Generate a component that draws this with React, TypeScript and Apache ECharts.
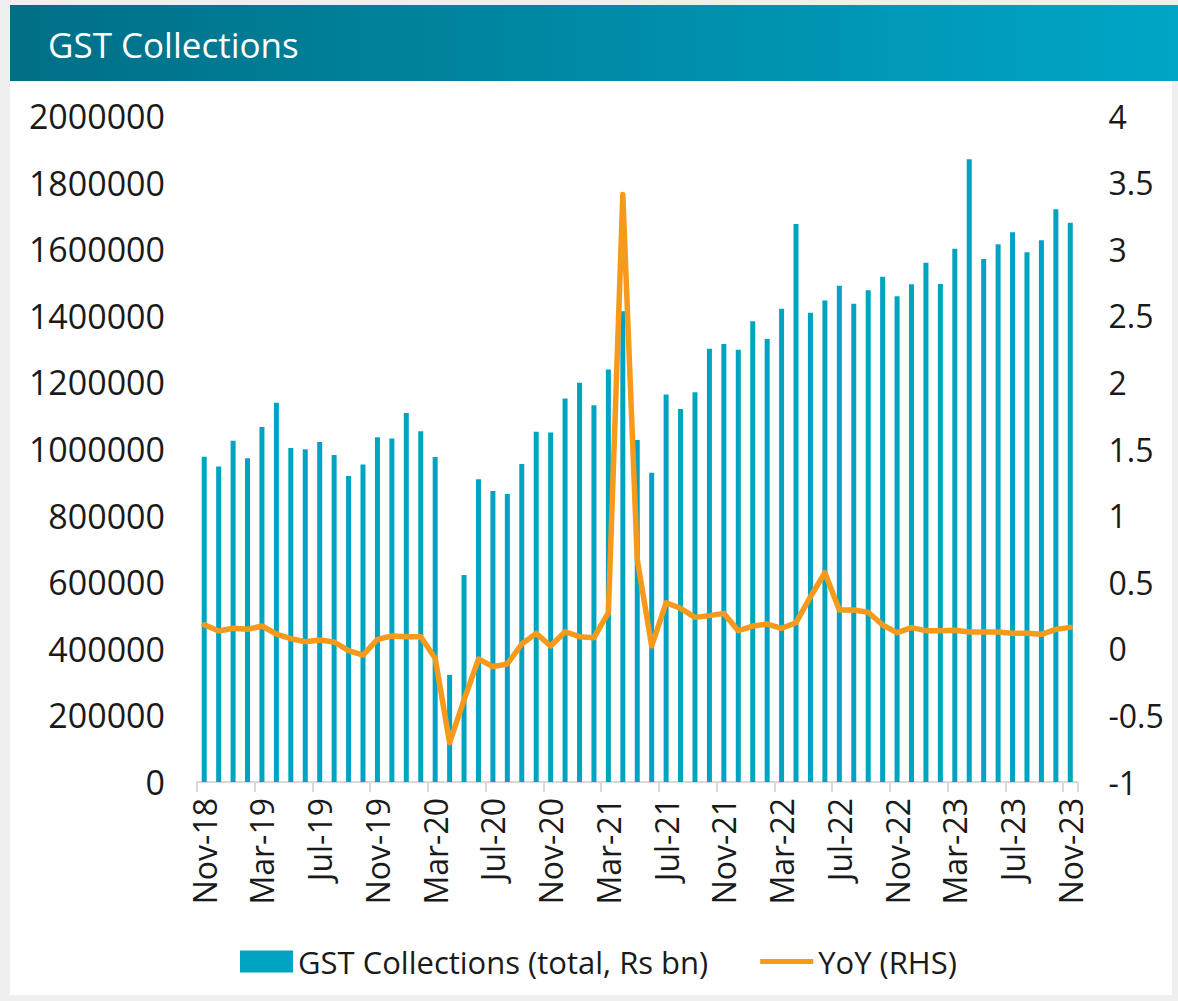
import React, { useEffect, useRef } from "react";
import * as echarts from "echarts";

const months: string[] = [
  "Nov-18", "Dec-18", "Jan-19", "Feb-19", "Mar-19", "Apr-19", "May-19", "Jun-19", "Jul-19", "Aug-19", "Sep-19", "Oct-19",
  "Nov-19", "Dec-19", "Jan-20", "Feb-20", "Mar-20", "Apr-20", "May-20", "Jun-20", "Jul-20", "Aug-20", "Sep-20", "Oct-20",
  "Nov-20", "Dec-20", "Jan-21", "Feb-21", "Mar-21", "Apr-21", "May-21", "Jun-21", "Jul-21", "Aug-21", "Sep-21", "Oct-21",
  "Nov-21", "Dec-21", "Jan-22", "Feb-22", "Mar-22", "Apr-22", "May-22", "Jun-22", "Jul-22", "Aug-22", "Sep-22", "Oct-22",
  "Nov-22", "Dec-22", "Jan-23", "Feb-23", "Mar-23", "Apr-23", "May-23", "Jun-23", "Jul-23", "Aug-23", "Sep-23", "Oct-23",
  "Nov-23",
];

const gstCollections: number[] = [
  976370, 947260, 1025030, 972470, 1065770, 1138650, 1002890, 999390, 1020830, 982020, 919160, 953800,
  1034920, 1031840, 1108280, 1053660, 975970, 321720, 621510, 909170, 874220, 864490, 954800, 1051550,
  1049630, 1151740, 1198750, 1131430, 1239020, 1413840, 1027090, 928490, 1163930, 1120200, 1170100, 1301270,
  1315260, 1297800, 1383940, 1330260, 1420950, 1675400, 1408850, 1446160, 1489950, 1436120, 1476860, 1517180,
  1458670, 1495070, 1559220, 1495770, 1601220, 1870350, 1570900, 1614970, 1651050, 1590690, 1627120, 1720030,
  1679290,
];

const yoy: number[] = [
  0.18, 0.134, 0.154, 0.146, 0.171, 0.111, 0.076, 0.053, 0.066, 0.051, -0.014, -0.047,
  0.071, 0.096, 0.091, 0.091, -0.071, -0.705, -0.384, -0.077, -0.134, -0.114, 0.036, 0.116,
  0.021, 0.128, 0.091, 0.083, 0.271, 3.41, 0.67, 0.021, 0.346, 0.304, 0.236, 0.249,
  0.266, 0.136, 0.171, 0.186, 0.154, 0.196, 0.391, 0.571, 0.291, 0.291, 0.274, 0.179,
  0.121, 0.159, 0.136, 0.136, 0.139, 0.126, 0.126, 0.126, 0.116, 0.116, 0.109, 0.146,
  0.161,
];

const titleText = "GST Collections";
const barName = "GST Collections (total, Rs bn)";
const lineName = "YoY (RHS)";

const FONT = "'Open Sans', 'Noto Sans', sans-serif";

export default function App() {
  const ref = useRef<HTMLDivElement>(null);

  useEffect(() => {
    if (!ref.current) return;
    const chart = echarts.init(ref.current, undefined, { renderer: "svg" });
    chart.setOption({
      animation: false,
      textStyle: { fontFamily: FONT },
      graphic: [
        {
          type: "rect",
          z: -10,
          silent: true,
          shape: { x: 10, y: 5, width: 1162, height: 990 },
          style: { fill: "#ffffff" },
        },
        {
          type: "rect",
          z: -9,
          silent: true,
          shape: { x: 10, y: 5, width: 1168, height: 76 },
          style: {
            fill: new echarts.graphic.LinearGradient(0, 0, 1, 0, [
              { offset: 0, color: "#006f86" },
              { offset: 1, color: "#00a6c6" },
            ]),
          },
        },
      ],
      title: {
        text: titleText,
        left: 43,
        top: 22,
        textStyle: { color: "#ffffff", fontSize: 35, fontWeight: 500, fontFamily: FONT },
      },
      legend: {
        left: 235,
        top: 941,
        itemGap: 52,
        itemWidth: 53,
        itemHeight: 22,
        symbolKeepAspect: true,
        textStyle: { color: "#1a1a1a", fontSize: 31, fontFamily: FONT },
        data: [
          { name: barName, icon: "rect" },
          { name: lineName, icon: "path://M0,0 L53,0 L53,5 L0,5 Z" },
        ],
      },
      grid: { left: 197, right: 100.5, top: 116, bottom: 219, containLabel: false },
      xAxis: {
        type: "category",
        data: months,
        boundaryGap: true,
        axisLine: { show: true, lineStyle: { color: "#d9d9d9", width: 2 } },
        axisTick: { show: true, interval: 3, length: 10, lineStyle: { color: "#d9d9d9", width: 2 } },
        axisLabel: {
          interval: 3,
          rotate: 90,
          margin: 16,
          color: "#1a1a1a",
          fontSize: 32,
          fontFamily: FONT,
        },
        splitLine: { show: false },
      },
      yAxis: [
        {
          type: "value",
          min: 0,
          max: 2000000,
          interval: 200000,
          axisLine: { show: false },
          axisTick: { show: false },
          splitLine: { show: false },
          axisLabel: {
            color: "#1a1a1a",
            fontSize: 34,
            margin: 32,
            fontFamily: FONT,
            formatter: (v: number) => String(v),
          },
        },
        {
          type: "value",
          min: -1,
          max: 4,
          interval: 0.5,
          axisLine: { show: false },
          axisTick: { show: false },
          splitLine: { show: false },
          axisLabel: {
            color: "#1a1a1a",
            fontSize: 32,
            margin: 31,
            fontFamily: FONT,
            formatter: (v: number) => String(v),
          },
        },
      ],
      series: [
        {
          name: barName,
          type: "bar",
          data: gstCollections,
          yAxisIndex: 0,
          barWidth: 5,
          itemStyle: { color: "#00a4c1" },
        },
        {
          name: lineName,
          type: "line",
          data: yoy,
          yAxisIndex: 1,
          symbol: "none",
          lineStyle: { color: "#f7991a", width: 5.5, join: "round", cap: "round" },
          itemStyle: { color: "#f7991a" },
          z: 3,
        },
      ],
    });
    return () => chart.dispose();
  }, []);

  return (
    <div
      style={{
        position: "absolute",
        left: 0,
        top: 0,
        width: 1178,
        height: 1001,
        background: "#efefef",
      }}
    >
      <div ref={ref} style={{ width: 1178, height: 1001 }} />
    </div>
  );
}
